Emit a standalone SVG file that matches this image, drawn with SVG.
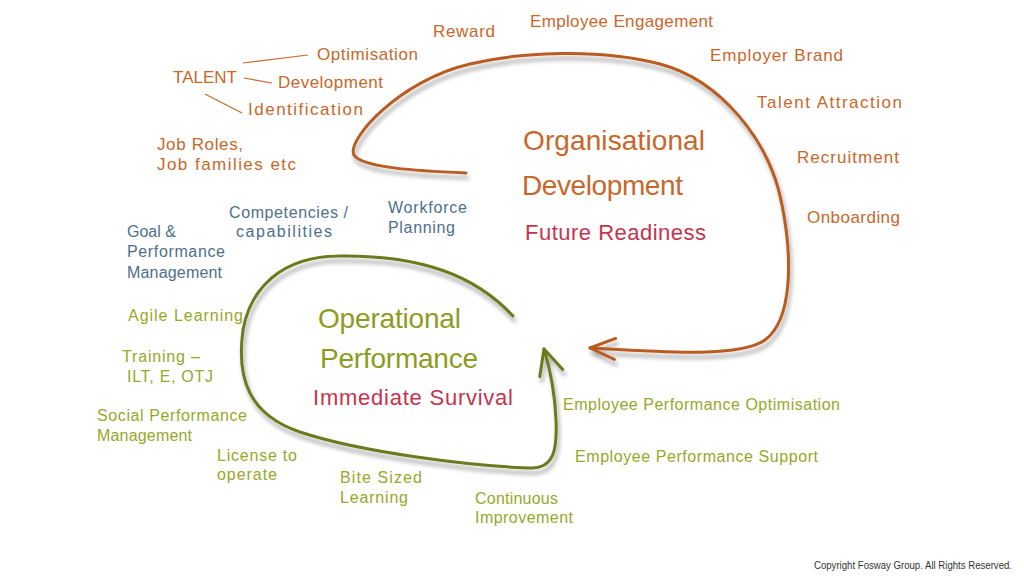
<svg xmlns="http://www.w3.org/2000/svg" width="1024" height="576" viewBox="0 0 1024 576">
<defs>
<style>
text{font-family:"Liberation Sans",Arial,sans-serif;}
.o{fill:#c9672b;font-size:17px;}
.b{fill:#4e6f8c;font-size:16px;}
.g{fill:#96a82a;font-size:16px;}
.t{font-size:28px;}
.to{fill:#c9672b;}
.tg{fill:#8c9c22;}
.s{fill:#c4344d;font-size:22px;}
.link{stroke:#c9672b;stroke-width:1.2;fill:none;}
.oc{stroke:#b85c22;stroke-width:3;fill:none;stroke-linecap:round;filter:url(#sh);}
.gc{stroke:#6a7a1c;stroke-width:3;fill:none;stroke-linecap:round;filter:url(#sh);}
.copy{font-size:10px;fill:#333;}
</style>
<filter id="sh" x="-10%" y="-10%" width="120%" height="130%">
<feGaussianBlur in="SourceAlpha" stdDeviation="2"/>
<feOffset dx="2" dy="5" result="b"/>
<feComponentTransfer><feFuncA type="linear" slope="0.35"/></feComponentTransfer>
<feMerge><feMergeNode/><feMergeNode in="SourceGraphic"/></feMerge>
</filter>
<marker id="ao" markerUnits="userSpaceOnUse" viewBox="-28 -14 32 28" markerWidth="32" markerHeight="28" refX="0" refY="0" orient="auto">
<path d="M-25,-10 L0,0 L-25,11" fill="none" stroke="#b85c22" stroke-width="3" stroke-linecap="round" stroke-linejoin="round"/>
</marker>
<marker id="ag" markerUnits="userSpaceOnUse" viewBox="-28 -14 32 28" markerWidth="32" markerHeight="28" refX="0" refY="0" orient="auto">
<path d="M-25,-12 L0,0 L-25,12" fill="none" stroke="#6a7a1c" stroke-width="3" stroke-linecap="round" stroke-linejoin="round"/>
</marker>
</defs>
<rect width="1024" height="576" fill="#ffffff"/>

<g id="connectors">
<path id="od-cycle" class="oc" marker-end="url(#ao)" d="M466,173 C420,171 362,168 354,155 C346,140 400,80 470,64 C520,52 600,48 660,64 C720,80 770,140 782,205 C793,260 792,320 765,340 C740,358 660,352 590,348"/>
<path id="op-cycle" class="gc" marker-end="url(#ag)" d="M513,316 C475,275 420,255 340,256 C280,256 250,290 243,330 C236,380 250,415 300,432 C360,452 470,466 530,468 C556,469 557,445 556,420 C555,395 551,372 544,349"/>
<line class="link" x1="243" y1="63" x2="308" y2="55"/>
<line class="link" x1="244" y1="78" x2="272" y2="83"/>
<line class="link" x1="205" y1="94" x2="242" y2="113"/>
</g>

<g id="organisational-development">
<text class="t to" x="523" y="150" textLength="182" lengthAdjust="spacing">Organisational</text>
<text class="t to" x="522" y="195" textLength="161" lengthAdjust="spacing">Development</text>
<text class="s" x="525" y="240" textLength="181" lengthAdjust="spacing">Future Readiness</text>
</g>

<g id="operational-performance">
<text class="t tg" x="318" y="328" textLength="143" lengthAdjust="spacing">Operational</text>
<text class="t tg" x="320" y="368" textLength="158" lengthAdjust="spacing">Performance</text>
<text class="s" x="313" y="405" textLength="200" lengthAdjust="spacing">Immediate Survival</text>
</g>

<g id="reward"><text class="o" x="433" y="37" textLength="62" lengthAdjust="spacing">Reward</text></g>
<g id="employee-engagement"><text class="o" x="530" y="27" textLength="183" lengthAdjust="spacing">Employee Engagement</text></g>
<g id="employer-brand"><text class="o" x="710" y="61" textLength="133" lengthAdjust="spacing">Employer Brand</text></g>
<g id="talent-attraction"><text class="o" x="757" y="108" textLength="145" lengthAdjust="spacing">Talent Attraction</text></g>
<g id="recruitment"><text class="o" x="797" y="163" textLength="102" lengthAdjust="spacing">Recruitment</text></g>
<g id="onboarding"><text class="o" x="807" y="223" textLength="93" lengthAdjust="spacing">Onboarding</text></g>
<g id="talent"><text class="o" x="173" y="83" textLength="64" lengthAdjust="spacing">TALENT</text></g>
<g id="optimisation"><text class="o" x="317" y="60" textLength="101" lengthAdjust="spacing">Optimisation</text></g>
<g id="development"><text class="o" x="278" y="88" textLength="105" lengthAdjust="spacing">Development</text></g>
<g id="identification"><text class="o" x="248" y="115" textLength="115" lengthAdjust="spacing">Identification</text></g>
<g id="job-roles">
<text class="o" x="157" y="150" textLength="86" lengthAdjust="spacing">Job Roles,</text>
<text class="o" x="157" y="170" textLength="139" lengthAdjust="spacing">Job families etc</text>
</g>

<g id="competencies">
<text class="b" x="229" y="218" textLength="119" lengthAdjust="spacing">Competencies /</text>
<text class="b" x="236" y="237" textLength="96" lengthAdjust="spacing">capabilities</text>
</g>
<g id="workforce-planning">
<text class="b" x="388" y="213" textLength="79" lengthAdjust="spacing">Workforce</text>
<text class="b" x="388" y="233" textLength="67" lengthAdjust="spacing">Planning</text>
</g>
<g id="goal-performance">
<text class="b" x="127" y="237">Goal &amp;</text>
<text class="b" x="127" y="257" textLength="98" lengthAdjust="spacing">Performance</text>
<text class="b" x="127" y="278" textLength="95" lengthAdjust="spacing">Management</text>
</g>

<g id="agile-learning"><text class="g" x="128" y="321" textLength="115" lengthAdjust="spacing">Agile Learning</text></g>
<g id="training">
<text class="g" x="122" y="362" textLength="78" lengthAdjust="spacing">Training –</text>
<text class="g" x="127" y="382" textLength="86" lengthAdjust="spacing">ILT, E, OTJ</text>
</g>
<g id="social-performance">
<text class="g" x="97" y="421" textLength="150" lengthAdjust="spacing">Social Performance</text>
<text class="g" x="97" y="441" textLength="95" lengthAdjust="spacing">Management</text>
</g>
<g id="license">
<text class="g" x="217" y="461" textLength="80" lengthAdjust="spacing">License to</text>
<text class="g" x="217" y="480" textLength="60" lengthAdjust="spacing">operate</text>
</g>
<g id="bite-sized">
<text class="g" x="340" y="483" textLength="82" lengthAdjust="spacing">Bite Sized</text>
<text class="g" x="340" y="503" textLength="68" lengthAdjust="spacing">Learning</text>
</g>
<g id="continuous-improvement">
<text class="g" x="475" y="504" textLength="83" lengthAdjust="spacing">Continuous</text>
<text class="g" x="475" y="523" textLength="98" lengthAdjust="spacing">Improvement</text>
</g>
<g id="epo"><text class="g" x="563" y="410" textLength="277" lengthAdjust="spacing">Employee Performance Optimisation</text></g>
<g id="eps"><text class="g" x="575" y="462" textLength="243" lengthAdjust="spacing">Employee Performance Support</text></g>

<g id="copyright"><text class="copy" x="814" y="569" textLength="198" lengthAdjust="spacingAndGlyphs">Copyright Fosway Group. All Rights Reserved.</text></g>
</svg>
